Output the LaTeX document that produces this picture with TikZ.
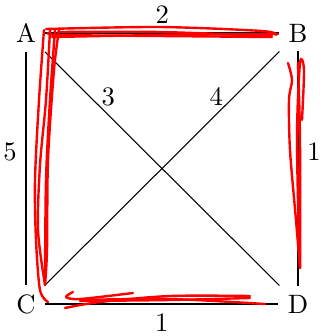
\documentclass[tikz,border=0pt]{standalone}
\begin{document}
\begin{tikzpicture}[x=0.376pt,y=-0.376pt,
  vtx/.style={inner sep=3.33pt},
  edgeline/.style={black,line width=0.4pt},
  scribble/.style={red,line width=0.9pt,line cap=round,line join=round}]
\useasboundingbox (0,0) rectangle (320,336);
\node[vtx] (A) at (26,33) {A};
\node[vtx] (B) at (298,33) {B};
\node[vtx] (C) at (26,304) {C};
\node[vtx] (D) at (298,304) {D};
\draw[edgeline] (A) -- node[above] {2} (B);
\draw[edgeline] (A) -- node[pos=0.43,left] {5} (C);
\draw[edgeline] (A) -- node[pos=0.27,above] {3} (D);
\draw[edgeline] (B) -- node[pos=0.27,above] {4} (C);
\draw[edgeline] (B) -- node[pos=0.43,right] {1} (D);
\draw[edgeline] (C) -- node[below] {1} (D);
% red freehand scribbles
\draw[scribble] plot[smooth] coordinates {(272,37) (160,36) (60,35) (48,33)};
\draw[scribble] plot[smooth] coordinates {(46,29) (160,27) (262,31) (276,35)};
\draw[scribble] plot[smooth] coordinates {(52,37) (160,35) (278,34)};
\draw[scribble] plot[smooth] coordinates {(58,32) (160,32) (272,36)};
\draw[scribble] plot[smooth] coordinates {(44,30) (39,100) (35,180) (36,240) (40,290) (48,302)};
\draw[scribble] plot[smooth] coordinates {(50,30) (46,100) (40,165) (38,230) (45,285)};
\draw[scribble] plot[smooth] coordinates {(55,30) (50,100) (46,180) (45,285)};
\draw[scribble] plot[smooth] coordinates {(59,30) (54,70) (48,160) (47,250) (45,285)};
\draw[scribble] plot[smooth] coordinates {(73,292) (66,297) (80,299) (133,293)};
\draw[scribble] plot[smooth] coordinates {(80,300) (170,299) (265,304)};
\draw[scribble] plot[smooth] coordinates {(65,308) (100,302) (170,296) (250,296)};
\draw[scribble] plot[smooth] coordinates {(80,301) (170,300) (250,298)};
\draw[scribble] plot[smooth] coordinates {(288,63) (292,80) (289,100) (290,150) (296,220) (300,268)};
\draw[scribble] plot[smooth] coordinates {(298,63) (300,140) (300,268) (297,140) (300,63) (304,70) (302,120)};
\end{tikzpicture}
\end{document}
